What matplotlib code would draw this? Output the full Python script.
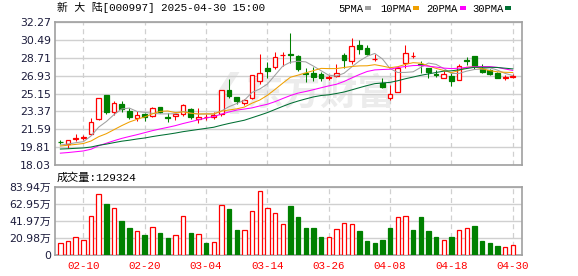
import matplotlib
matplotlib.use("Agg")
import matplotlib.pyplot as plt
from matplotlib.patches import Rectangle
import numpy as np

plt.rcParams['font.family'] = ['DejaVu Sans', 'Noto Sans CJK SC']

# ---- data ----
stock_name = "新 大 陆"
stock_code = "000997"
stamp = "2025-04-30 15:00"

dates = ["02-05", "02-06", "02-07", "02-10", "02-11", "02-12", "02-13", "02-14",
         "02-17", "02-18", "02-19", "02-20", "02-21", "02-24", "02-25", "02-26",
         "02-27", "02-28", "03-03", "03-04", "03-05", "03-06", "03-07", "03-10",
         "03-11", "03-12", "03-13", "03-14", "03-17", "03-18", "03-19", "03-20",
         "03-21", "03-24", "03-25", "03-26", "03-27", "03-28", "03-31", "04-01",
         "04-02", "04-03", "04-07", "04-08", "04-09", "04-10", "04-11", "04-14",
         "04-15", "04-16", "04-17", "04-18", "04-21", "04-22", "04-23", "04-24",
         "04-25", "04-28", "04-29", "04-30"]

opens = [20.35, 20.09, 20.65, 20.72, 21.09, 22.61, 25.00, 23.34, 24.10, 23.41,
         22.68, 23.10, 22.95, 23.80, 22.82, 22.90, 23.08, 23.60, 22.62, 22.78,
         22.85, 23.10, 25.50, 24.83, 24.20, 24.73, 26.43, 27.72, 27.76, 28.95,
         29.10, 28.92, 27.20, 27.22, 27.12, 26.72, 26.89, 28.98, 28.39, 29.98,
         29.71, 28.55, 26.17, 24.67, 25.27, 28.16, 28.85, 28.10, 27.66, 27.10,
         26.66, 26.89, 26.50, 28.45, 28.88, 27.66, 27.49, 27.16, 26.72, 26.80]
closes = [20.28, 20.49, 20.72, 20.78, 22.34, 24.67, 23.27, 24.17, 23.60, 22.78,
          23.00, 22.82, 23.72, 23.30, 22.76, 23.08, 24.00, 22.80, 22.85, 22.82,
          23.05, 25.50, 24.93, 24.40, 24.50, 26.99, 27.16, 27.42, 28.82, 29.00,
          28.95, 27.56, 27.10, 26.76, 26.66, 26.80, 27.16, 28.49, 29.91, 29.58,
          29.11, 28.60, 25.77, 25.07, 27.66, 29.15, 28.90, 27.95, 27.25, 27.02,
          27.06, 26.43, 27.89, 28.38, 27.92, 27.26, 27.09, 26.74, 26.78, 26.85]
highs = [20.55, 20.50, 21.10, 21.00, 22.75, 24.70, 25.00, 24.45, 24.45, 23.75,
         23.40, 23.20, 23.85, 23.80, 23.20, 23.15, 24.10, 23.70, 23.68, 23.10,
         23.30, 25.50, 26.56, 24.85, 24.60, 27.00, 29.05, 28.32, 29.25, 29.25,
         31.14, 29.00, 27.72, 27.82, 27.30, 27.00, 28.06, 29.15, 30.71, 30.48,
         30.00, 29.05, 26.66, 25.97, 27.70, 29.98, 29.30, 28.40, 27.66, 27.50,
         27.40, 27.30, 28.05, 28.75, 28.88, 28.10, 27.60, 27.25, 27.00, 27.10]
lows = [20.10, 19.75, 20.45, 20.50, 21.00, 22.48, 23.15, 23.00, 23.35, 22.58,
        22.40, 22.45, 22.85, 23.20, 22.30, 22.50, 22.95, 22.58, 22.20, 22.55,
        22.60, 22.95, 24.73, 24.10, 24.00, 24.60, 26.10, 26.72, 27.60, 27.85,
        28.22, 27.40, 26.33, 26.40, 26.40, 26.50, 26.82, 27.72, 28.06, 29.05,
        29.00, 28.39, 25.73, 24.50, 25.25, 27.70, 28.70, 27.20, 26.66, 26.76,
        26.66, 25.90, 26.50, 27.95, 27.55, 27.20, 26.96, 26.72, 26.50, 26.70]

# moving averages as drawn on the chart
ma5 = [20.02, 20.12, 20.25, 20.35, 20.92, 21.80, 22.36, 23.05, 23.61, 23.70,
       23.36, 23.27, 23.18, 23.12, 23.12, 23.14, 23.37, 23.19, 23.10, 23.11,
       23.11, 23.41, 23.84, 24.15, 24.48, 25.26, 25.60, 26.09, 26.98, 27.88,
       28.27, 28.36, 28.30, 27.88, 27.42, 26.97, 26.89, 27.17, 27.80, 28.39,
       28.85, 29.14, 28.59, 27.63, 27.24, 27.25, 27.31, 27.75, 28.18, 28.05,
       27.64, 27.14, 27.15, 27.38, 27.54, 27.58, 27.71, 27.48, 27.15, 26.94]
ma10 = [19.92, 20.00, 20.08, 20.17, 20.42, 20.85, 21.15, 21.55, 21.95, 22.31,
        22.58, 22.82, 23.12, 23.37, 23.41, 23.25, 23.32, 23.19, 23.11, 23.12,
        23.12, 23.39, 23.51, 23.62, 23.80, 24.19, 24.50, 24.97, 25.56, 26.18,
        26.77, 26.98, 27.20, 27.43, 27.65, 27.63, 27.63, 27.74, 27.84, 27.90,
        27.91, 28.02, 27.88, 27.72, 27.82, 28.05, 28.22, 28.17, 27.90, 27.65,
        27.44, 27.23, 27.44, 27.77, 27.80, 27.61, 27.43, 27.31, 27.26, 27.24]
ma20 = [19.21, 19.27, 19.35, 19.43, 19.60, 19.95, 20.20, 20.45, 20.68, 20.87,
        21.05, 21.25, 21.45, 21.62, 21.78, 21.95, 22.16, 22.34, 22.53, 22.71,
        22.85, 23.10, 23.31, 23.50, 23.60, 23.72, 23.91, 24.08, 24.34, 24.65,
        24.95, 25.19, 25.35, 25.53, 25.72, 25.91, 26.07, 26.35, 26.70, 27.04,
        27.34, 27.50, 27.54, 27.57, 27.73, 27.84, 27.93, 27.95, 27.87, 27.78,
        27.68, 27.63, 27.67, 27.75, 27.81, 27.83, 27.83, 27.75, 27.59, 27.45]
ma30 = [19.62, 19.65, 19.69, 19.73, 19.82, 19.99, 20.11, 20.26, 20.40, 20.50,
        20.62, 20.72, 20.86, 20.98, 21.09, 21.21, 21.35, 21.46, 21.57, 21.68,
        21.79, 21.99, 22.17, 22.33, 22.49, 22.74, 22.99, 23.25, 23.56, 23.87,
        24.16, 24.40, 24.61, 24.81, 24.95, 25.02, 25.15, 25.30, 25.51, 25.73,
        25.94, 26.13, 26.20, 26.26, 26.42, 26.62, 26.79, 26.96, 27.10, 27.24,
        27.38, 27.41, 27.51, 27.64, 27.76, 27.76, 27.76, 27.74, 27.67, 27.60]

# volume, in 万 (10k lots)
volumes = [14.4, 17.3, 22.2, 18.5, 48.1, 74.9, 62.5, 57.6, 42.0, 33.7,
           29.6, 24.7, 34.6, 27.5, 21.4, 24.3, 48.1, 27.5, 25.5, 14.4,
           15.6, 61.7, 56.8, 30.9, 30.4, 54.3, 79.0, 57.6, 51.4, 37.8,
           60.5, 46.9, 33.7, 33.7, 22.6, 22.2, 32.1, 39.1, 37.8, 29.6,
           17.3, 14.8, 18.5, 33.7, 46.5, 48.1, 30.9, 46.9, 29.6, 22.6,
           18.5, 22.6, 30.9, 33.3, 35.8, 17.3, 14.8, 11.5, 9.9, 12.9324]

price_ticks = [18.03, 19.81, 21.59, 23.37, 25.15, 26.93, 28.71, 30.49, 32.27]
vol_ticks = [0, 20.98, 41.97, 62.95, 83.94]
date_ticks = ["02-10", "02-20", "03-04", "03-14", "03-26", "04-08", "04-18", "04-30"]

ma_names = ["5PMA", "10PMA", "20PMA", "30PMA"]
ma_colors = ["#a0a0a0", "#f0a000", "#ff00ff", "#006f33"]

RED = "#ff0000"
GREEN = "#008000"
GRID = "#d0d0d0"
SPINE = "#a0a0a0"
LABEL = "#1c1c3c"
LW = 0.75  # about one pixel

W, H = 578, 276


def px(x, y):
    # pixel position (from top-left) -> figure fraction
    return x / W, 1 - y / H


def style_axis(ax):
    for s in ax.spines.values():
        s.set_color(SPINE)
        s.set_linewidth(1.2)
    ax.tick_params(axis="both", length=0, labelsize=7.8, colors=LABEL, pad=3)
    ax.set_axisbelow(True)


fig = plt.figure(figsize=(W / 100, H / 100), dpi=100)
fig.patch.set_facecolor("white")

ax = fig.add_axes([55 / W, 1 - 165 / H, 467 / W, 143 / H])
axv = fig.add_axes([55 / W, 1 - 255 / H, 467 / W, 68 / H])

x = np.arange(len(dates))
o = np.array(opens)
c = np.array(closes)
up = c >= o

# watermark (logo swoosh + name)
ax.text(0.37, 0.50, "❮", transform=ax.transAxes, fontsize=30, color="#ececec",
        ha="center", va="center", zorder=0, family=["DejaVu Sans"])
ax.text(0.57, 0.50, "东方财富", transform=ax.transAxes, fontsize=27,
        fontweight="bold", color="#ececec", ha="center", va="center", zorder=0,
        family=["Noto Sans CJK SC"])

# candles
wick_colors = [RED if u else GREEN for u in up]
ax.vlines(x, lows, highs, colors=wick_colors, linewidth=LW, zorder=2)
body_bottom = np.minimum(o, c)
body_height = np.maximum(np.abs(c - o), 0.005)
ax.bar(x, body_height, bottom=body_bottom, width=0.62,
       color=["white" if u else GREEN for u in up],
       edgecolor=wick_colors, linewidth=0.9, zorder=3)

for vals, col in zip([ma5, ma10, ma20, ma30], ma_colors):
    ax.plot(x, vals, color=col, linewidth=LW, zorder=4)

ax.set_xlim(-0.7, len(dates) + 0.2)
ax.set_ylim(price_ticks[0], price_ticks[-1])
ax.set_yticks(price_ticks)
ax.set_yticklabels([f"{t:.2f}" for t in price_ticks])
tick_pos = [dates.index(d) for d in date_ticks]
ax.set_xticks(tick_pos)
ax.set_xticklabels([])
ax.grid(axis="y", color=GRID, linewidth=1.0)
ax.grid(axis="x", color=GRID, linewidth=0.9, linestyle=(0, (4, 3)))
style_axis(ax)

# volume
vol_up = [True] + [closes[i] >= closes[i - 1] for i in range(1, len(closes))]
vol_edge = [RED if u else GREEN for u in vol_up]
axv.bar(x, volumes, width=0.58, color=["white" if u else GREEN for u in vol_up],
        edgecolor=vol_edge, linewidth=0.9, zorder=3)
axv.set_xlim(ax.get_xlim())
axv.set_ylim(vol_ticks[0], vol_ticks[-1])
axv.set_yticks(vol_ticks)
axv.set_yticklabels(["0"] + [f"{t:.2f}万" for t in vol_ticks[1:]])
axv.set_xticks(tick_pos)
axv.set_xticklabels(date_ticks, color=RED, fontsize=7, family=["Liberation Mono"])
axv.grid(axis="y", color=GRID, linewidth=1.0)
axv.grid(axis="x", color=GRID, linewidth=0.9, linestyle=(0, (4, 3)))
style_axis(axv)
axv.tick_params(axis="x", colors=RED, pad=4)

# header texts
mono_cjk = ["Liberation Mono", "Noto Sans CJK SC"]
fig.text(*px(57, 7.5), f"{stock_name}[{stock_code}] {stamp}", fontsize=7.8,
         ha="left", va="center", color="black", family=mono_cjk)
fig.text(*px(57, 178), f"成交量:{int(round(volumes[-1] * 10000))}", fontsize=8,
         ha="left", va="center", color="black", family=mono_cjk)

# MA legend
leg_x = [338, 380, 426, 472]
sq_x = [365, 413, 460, 505]
for name, col, lx, sx in zip(ma_names, ma_colors, leg_x, sq_x):
    fig.text(*px(lx, 8.5), name, fontsize=7.6, ha="left", va="center",
             color="black", family=["Liberation Mono"])
    fig.add_artist(Rectangle(px(sx, 10), 6 / W, 4 / H, transform=fig.transFigure,
                             color=col, linewidth=0))

fig.savefig("out.png", dpi=100)
